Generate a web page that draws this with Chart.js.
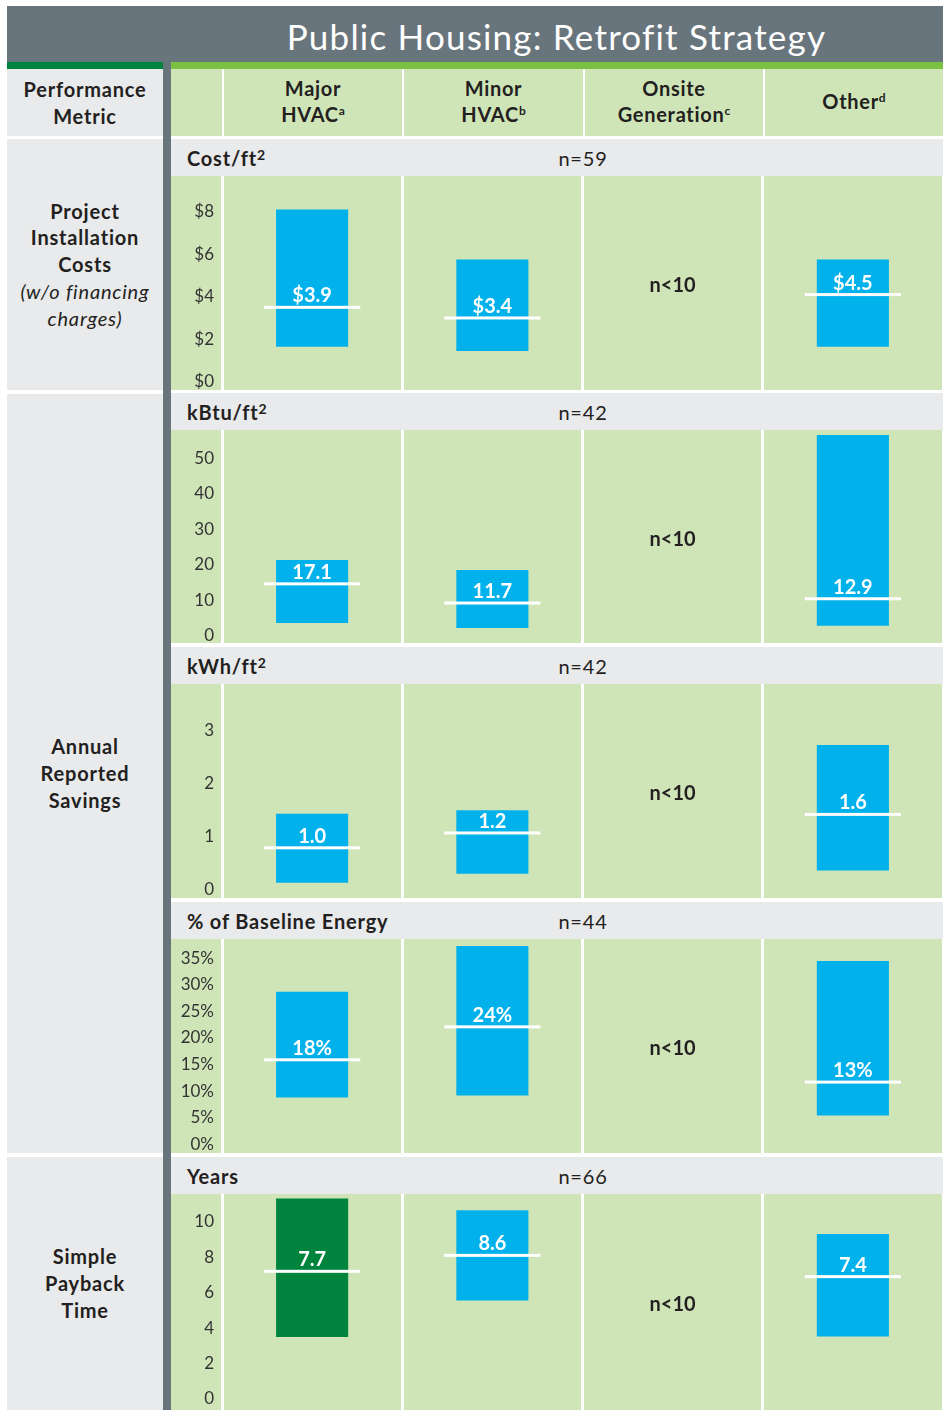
<!DOCTYPE html>
<html>
<head>
<meta charset="utf-8">
<script src="https://cdn.jsdelivr.net/npm/chart.js@4.4.1/dist/chart.umd.min.js"></script>
<style>
  body { margin: 0; background: #fff; font-family: Lato, sans-serif; color: #231f20; }
  #page { position: relative; width: 945px; height: 1410px; overflow: hidden; }
  .abs { position: absolute; box-sizing: border-box; }
  .title { left: 7px; top: 6px; width: 936px; height: 56px; background: #68757c; }
  .title span { position: absolute; left: 163px; width: 773px; text-align: center; line-height: 60px;
                font-size: 35px; letter-spacing: 1.2px; color: #fff; }
  .gray { background: #e9eaec; }
  .lgreen { background: #cfe5b8; }
  .left { display: flex; align-items: center; justify-content: center; text-align: center;
          font-weight: bold; font-size: 20px; letter-spacing: 0.8px; line-height: 26.7px; }
  .left i { font-weight: normal; }
  .colhead { display: flex; align-items: center; justify-content: center; text-align: center;
             font-weight: bold; font-size: 20px; letter-spacing: 0.7px; line-height: 26px; }
  .sp { font-size: 12px; position: relative; top: -7px; letter-spacing: 0; }
  .sub { font-size: 20px; letter-spacing: 0.8px; line-height: 38px; }
  .sub .unit { position: absolute; left: 16px; font-weight: bold; }
  .sub .unit .sp { font-size: 14px; top: -6px; }
  .sub .n { position: absolute; left: 312px; width: 200px; text-align: center; }
  canvas { position: absolute; left: 0; top: 0; }
</style>
</head>
<body>
<div id="page">
  <div class="abs title"><span>Public Housing: Retrofit Strategy</span></div>
  <div class="abs" style="left:7px;top:62px;width:156px;height:7px;background:#00843d"></div>
  <div class="abs" style="left:171px;top:62px;width:772px;height:7px;background:#7ac143"></div>
  <div class="abs" style="left:163px;top:62px;width:8px;height:1348px;background:#68757c"></div>

  <div class="abs gray left" style="left:7px;top:69px;width:156px;height:67px">Performance<br>Metric</div>
  <div class="abs lgreen" style="left:171px;top:69px;width:51px;height:67px"></div>
  <div class="abs lgreen colhead" style="left:224px;top:69px;width:178px;height:67px"><div>Major<br>HVAC<span class="sp">a</span></div></div>
  <div class="abs lgreen colhead" style="left:404px;top:69px;width:179px;height:67px"><div>Minor<br>HVAC<span class="sp">b</span></div></div>
  <div class="abs lgreen colhead" style="left:585px;top:69px;width:178px;height:67px"><div>Onsite<br>Generation<span class="sp">c</span></div></div>
  <div class="abs lgreen colhead" style="left:765px;top:69px;width:178px;height:67px"><div>Other<span class="sp">d</span></div></div>

  <div class="abs gray left" style="left:7px;top:139px;width:156px;height:251px">
    <div>Project<br>Installation<br>Costs<br><i>(w/o financing<br>charges)</i></div></div>
  <div class="abs gray left" style="left:7px;top:394px;width:156px;height:759px">Annual<br>Reported<br>Savings</div>
  <div class="abs gray left" style="left:7px;top:1157px;width:156px;height:253px">Simple<br>Payback<br>Time</div>

  <div id="panels"></div>
</div>
<script>
const categories = ['Major HVAC', 'Minor HVAC', 'Onsite Generation', 'Other'];

// cost per square foot
const costTicks = [0, 2, 4, 6, 8];
const costLow   = [1.65, 1.45, null, 1.65];
const costHigh  = [8.1, 5.75, null, 5.75];
const costMid   = [3.5, 3.0, null, 4.1];
const costLabel = [3.9, 3.4, null, 4.5];

// kBtu per square foot
const kbtuTicks = [0, 10, 20, 30, 40, 50];
const kbtuLow   = [3.6, 2.2, null, 2.8];
const kbtuHigh  = [21.3, 18.5, null, 56.5];
const kbtuMid   = [14.6, 9.2, null, 10.4];
const kbtuLabel = [17.1, 11.7, null, 12.9];

// kWh per square foot
const kwhTicks = [0, 1, 2, 3];
const kwhLow   = [0.13, 0.30, null, 0.36];
const kwhHigh  = [1.43, 1.50, null, 2.73];
const kwhMid   = [0.79, 1.07, null, 1.42];
const kwhLabel = [1.0, 1.2, null, 1.6];

// % of baseline energy
const pctTicks = [0, 5, 10, 15, 20, 25, 30, 35];
const pctLow   = [8.8, 9.2, null, 5.4];
const pctHigh  = [28.7, 37.3, null, 34.5];
const pctMid   = [15.9, 22.1, null, 11.7];
const pctLabel = [18, 24, null, 13];

// simple payback, years
const yearsTicks = [0, 2, 4, 6, 8, 10];
const yearsLow   = [3.5, 5.55, null, 3.52];
const yearsHigh  = [11.3, 10.65, null, 9.3];
const yearsMid   = [7.2, 8.1, null, 6.9];
const yearsLabel = [7.7, 8.6, null, 7.4];

const BLUE = '#00b1eb';
const GREEN = '#00843d';

const panelDefs = [
  { id: 'chart-cost',  unit: 'Cost/ft', n: 59, top: 139, h: 214, min: -0.39, max: 9.68,
    ticks: costTicks, low: costLow, high: costHigh, mid: costMid, label: costLabel,
    tick: v => '$' + v, fmt: v => '$' + v.toFixed(1), colors: [BLUE, BLUE, BLUE, BLUE] },
  { id: 'chart-kbtu',  unit: 'kBtu/ft', n: 42, top: 393, h: 213, min: -2.05, max: 57.9,
    ticks: kbtuTicks, low: kbtuLow, high: kbtuHigh, mid: kbtuMid, label: kbtuLabel,
    tick: v => v, fmt: v => v.toFixed(1), colors: [BLUE, BLUE, BLUE, BLUE] },
  { id: 'chart-kwh',   unit: 'kWh/ft', n: 42, top: 647, h: 214, min: -0.157, max: 3.88,
    ticks: kwhTicks, low: kwhLow, high: kwhHigh, mid: kwhMid, label: kwhLabel,
    tick: v => v, fmt: v => v.toFixed(1), colors: [BLUE, BLUE, BLUE, BLUE] },
  { id: 'chart-pct',   unit: '% of Baseline Energy', n: 44, top: 902, h: 214, min: -1.64, max: 38.63,
    ticks: pctTicks, low: pctLow, high: pctHigh, mid: pctMid, label: pctLabel,
    tick: v => v + '%', fmt: v => v + '%', colors: [BLUE, BLUE, BLUE, BLUE] },
  { id: 'chart-years', unit: 'Years', n: 66, top: 1157, h: 216, min: -0.62, max: 11.56,
    ticks: yearsTicks, low: yearsLow, high: yearsHigh, mid: yearsMid, label: yearsLabel,
    tick: v => v, fmt: v => v.toFixed(1), colors: [GREEN, BLUE, BLUE, BLUE] },
];

Chart.defaults.font.family = 'Lato, sans-serif';
Chart.defaults.animation = false;

// white median line with its value above, and "n<10" where there is no bar
function markerPlugin(def) {
  return {
    id: 'markers',
    afterDatasetsDraw(chart) {
      const { ctx, chartArea } = chart;
      const x = chart.scales.x, y = chart.scales.y;
      const half = (x.getPixelForValue(1) - x.getPixelForValue(0)) * 0.267;
      ctx.save();
      ctx.textAlign = 'center';
      categories.forEach((cat, i) => {
        const cx = x.getPixelForValue(i);
        if (def.mid[i] === null) {
          ctx.fillStyle = '#231f20';
          ctx.font = 'bold 20px Lato';
          ctx.textBaseline = 'middle';
          ctx.fillText('n<10', cx, (chartArea.top + chartArea.bottom) / 2 + 3);
          return;
        }
        const my = y.getPixelForValue(def.mid[i]);
        ctx.fillStyle = '#fff';
        ctx.fillRect(cx - half, my - 1.5, half * 2, 3);
        ctx.font = 'bold 20px Lato';
        ctx.textBaseline = 'alphabetic';
        ctx.fillText(def.fmt(def.label[i]), cx, my - 5);
      });
      ctx.restore();
    }
  };
}

function makePanel(def) {
  const wrap = document.createElement('div');
  wrap.className = 'abs gray sub';
  wrap.style.cssText = `left:171px;top:${def.top}px;width:772px;height:37px`;
  const sq = def.unit.endsWith('/ft') ? '<span class="sp">2</span>' : '';
  wrap.innerHTML = `<span class="unit">${def.unit}${sq}</span><span class="n">n=${def.n}</span>`;
  document.getElementById('panels').appendChild(wrap);

  const area = document.createElement('div');
  area.className = 'abs lgreen';
  area.style.cssText = `left:171px;top:${def.top + 37}px;width:772px;height:${def.h}px`;
  const canvas = document.createElement('canvas');
  canvas.id = def.id;
  canvas.width = 772;
  canvas.height = def.h;
  area.appendChild(canvas);
  document.getElementById('panels').appendChild(area);

  new Chart(canvas.getContext('2d'), {
    type: 'bar',
    data: {
      labels: categories,
      datasets: [{
        data: def.low.map((lo, i) => lo === null ? null : [lo, def.high[i]]),
        backgroundColor: def.colors,
        borderWidth: 0,
        barPercentage: 0.4,
        categoryPercentage: 1,
      }]
    },
    options: {
      responsive: false,
      plugins: { legend: { display: false }, tooltip: { enabled: false } },
      layout: { padding: 0 },
      scales: {
        x: {
          grid: { offset: true, color: '#fff', lineWidth: 3, drawTicks: false },
          ticks: { display: false },
          border: { display: false },
        },
        y: {
          min: def.min,
          max: def.max,
          grid: { display: false, drawTicks: false },
          border: { display: false },
          ticks: { color: '#333', font: { size: 17 }, padding: 8, callback: v => def.tick(v) },
          afterBuildTicks: s => { s.ticks = def.ticks.map(v => ({ value: v })); },
          afterFit: s => { s.width = 51; s.paddingTop = 0; s.paddingBottom = 0; },
        }
      }
    },
    plugins: [markerPlugin(def)]
  });
}

panelDefs.forEach(makePanel);
</script>
</body>
</html>
